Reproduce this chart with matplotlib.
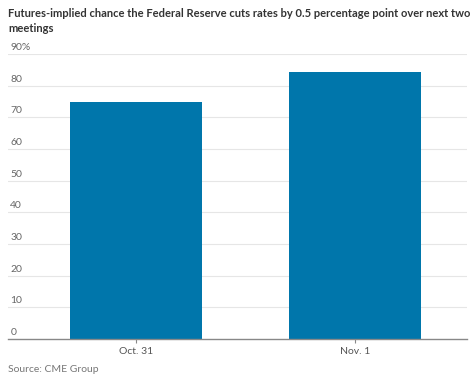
import matplotlib.pyplot as plt

dates = ['Oct. 31', 'Nov. 1']
chance = [74.7, 84.3]
yticks = [0, 10, 20, 30, 40, 50, 60, 70, 80, 90]
ytick_labels = ['0', '10', '20', '30', '40', '50', '60', '70', '80', '90%']

plt.rcParams['font.family'] = ['Lato', 'DejaVu Sans']

fig = plt.figure(figsize=(4.74, 3.82), dpi=100)
ax = fig.add_axes([8 / 474, 1 - 339 / 382, 459 / 474, 285 / 382])

x = range(len(dates))
ax.bar(x, chance, width=0.6, color='#0076ab', zorder=2)
ax.set_xlim(-0.584, 1.511)
ax.set_ylim(0, 90)

# gridlines with labels sitting above them
for v, lab in zip(yticks, ytick_labels):
    if v > 0:
        ax.axhline(v, color='#e6e6e6', lw=0.8, zorder=1)
    ax.text(0.005, v + 0.6, lab, transform=ax.get_yaxis_transform(),
            fontsize=7.5, color='#666666', ha='left', va='bottom')
ax.set_yticks([])

ax.set_xticks(list(x))
ax.set_xticklabels(dates, fontsize=7.5, color='#555555')
ax.tick_params(axis='x', length=3, color='#888888', pad=3)
for s in ['top', 'right', 'left']:
    ax.spines[s].set_visible(False)
ax.spines['bottom'].set_color('#888888')
ax.spines['bottom'].set_linewidth(1.0)
ax.spines['bottom'].set_zorder(3)

fig.text(8 / 474, 1 - 21 / 382, 'Futures-implied chance the Federal Reserve cuts rates by 0.5 percentage point over next two\nmeetings',
         fontsize=8.0, fontweight='bold', color='#333333', ha='left', va='center', linespacing=1.55)
fig.text(8 / 474, 1 - 370 / 382, 'Source: CME Group', fontsize=7.5, color='#777777', ha='left', va='center')

fig.savefig('out.png', dpi=100)
